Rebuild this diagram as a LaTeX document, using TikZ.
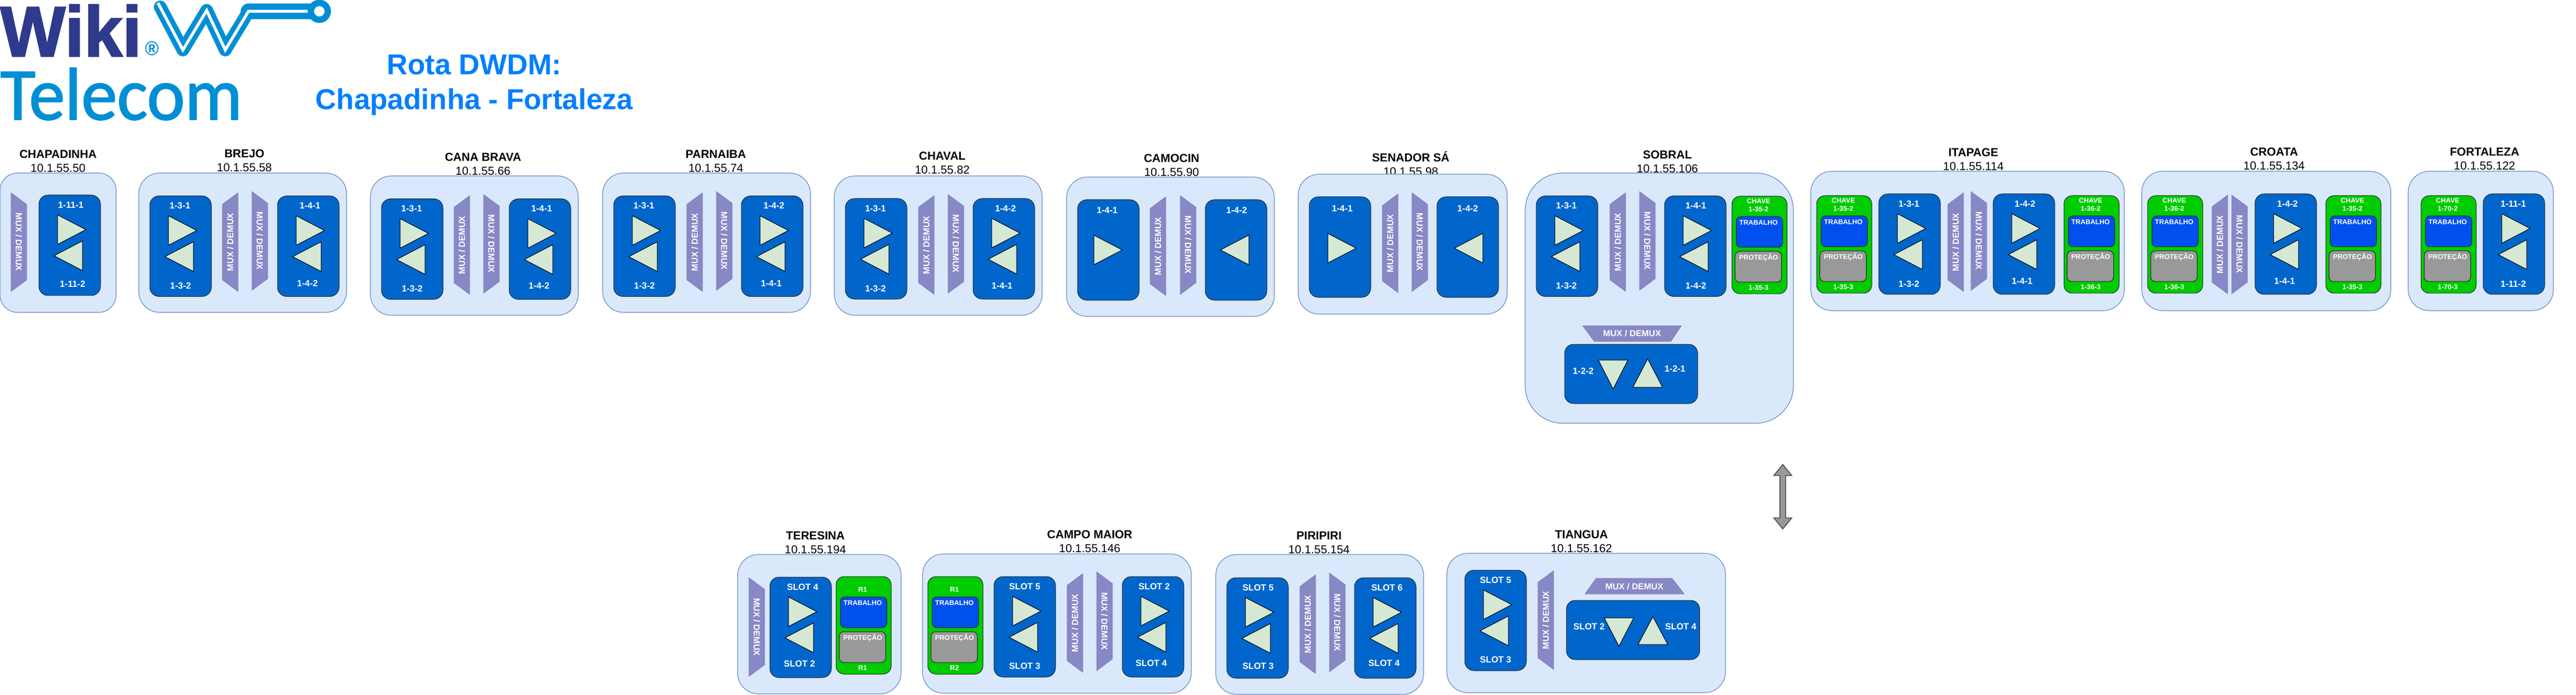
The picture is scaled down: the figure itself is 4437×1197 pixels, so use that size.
\documentclass[tikz,border=0pt]{standalone}
\usepackage{fontspec}
\setmainfont{Liberation Sans}
\newfontfamily\logofont[FakeBold=1.5]{Carlito}
\newfontfamily\logoforte[FakeBold=2]{Liberation Sans Bold}

\definecolor{painelfill}{HTML}{DAE8FC}
\definecolor{painelline}{HTML}{6C8EBF}
\definecolor{placafill}{HTML}{0066CC}
\definecolor{muxfill}{HTML}{8888C6}
\definecolor{setafill}{HTML}{D5E8D4}
\definecolor{chavefill}{HTML}{00CC00}
\definecolor{trabfill}{HTML}{0050EF}
\definecolor{protfill}{HTML}{999999}
\definecolor{titulocor}{HTML}{007FFF}
\definecolor{logoazul}{HTML}{008FD5}
\definecolor{logonavy}{HTML}{2E3A8C}

\tikzset{
	painel/.style={draw=painelline,fill=painelfill,line width=0.35pt},
	placa/.style={draw=black!85,fill=placafill,line width=0.3pt},
	modulo/.style={draw=black!85,fill=chavefill,line width=0.3pt},
	trabalho/.style={draw=black!85,fill=trabfill,line width=0.3pt},
	protecao/.style={draw=black!85,fill=protfill,line width=0.3pt},
	triang/.style={draw=black,fill=setafill,line width=0.3pt,line join=round},
	muxforma/.style={draw=muxfill!90!black,fill=muxfill,line width=0.2pt},
	estacaotxt/.style={inner sep=0,align=center,font=\fontsize{6}{7.2}\selectfont},
	rotulo/.style={inner sep=0,text=white,text height=3.3pt,text depth=0pt,font=\fontsize{4.62}{5}\selectfont\bfseries},
	rotmin/.style={inner sep=0,text=white,text height=2.54pt,text depth=0pt,font=\fontsize{3.54}{4}\selectfont\bfseries},
	muxtxt/.style={inner sep=0,text=white,text height=3.25pt,text depth=0pt,font=\fontsize{4.5}{5}\selectfont\bfseries},
}

% x1 y1 largura altura
\newcommand{\caixa}[6]{
	\pgfmathsetmacro{\raio}{0.045*min((#5),(#6))}
	\node[#1,rounded corners=\raio pt,inner sep=0,minimum width={(#5)*0.3pt},minimum height={(#6)*0.3pt}] (#2) at ({#3+(#5)/2},{#4+(#6)/2}) {};
}
\newcommand{\estacao}[9]{
	\node[estacaotxt] (#1txt) at (#6,#7) {\textbf{#8}\\#9};
	\caixa{painel}{#1}{#2}{#3}{#4-#2}{#5-#3}
}
\newcommand{\setaD}[2]{\draw[triang] ({#1},{#2}) -- ++(49,25.5) -- ++(-49,25.5) -- cycle;}
\newcommand{\setaE}[2]{\draw[triang] ({#1+49},{#2}) -- ++(-49,25.5) -- ++(49,25.5) -- cycle;}
% nome x y, rotulo de cima + dx, rotulo de baixo + dx dy
\newcommand{\placa}[8]{
	\caixa{placa}{#1}{#2}{#3}{106}{173}
	\node[rotulo] (#1a) at ({#2+#5},{#3+17}) {#4};
	\node[rotulo] (#1b) at ({#2+#7},{#3+#8}) {#6};
	\setaD{#2+32}{#3+34}
	\setaE{#2+26}{#3+79}
}
\newcommand{\muxA}[3]{
	\draw[muxforma] ({#2+27},{#3}) -- ++(-27,20) -- ++(0,130) -- ++(27,20) -- cycle;
	\node[muxtxt,rotate=90] (#1) at ({#2+13.5},{#3+85}) {MUX / DEMUX};
}
\newcommand{\muxB}[3]{
	\draw[muxforma] ({#2},{#3}) -- ++(27,20) -- ++(0,130) -- ++(-27,20) -- cycle;
	\node[muxtxt,rotate=-90] (#1) at ({#2+13.5},{#3+85}) {MUX / DEMUX};
}
\newcommand{\modulo}[5]{
	\caixa{modulo}{#1}{#2}{#3}{95}{168}
	\caixa{trabalho}{#1t}{#2+7.5}{#3+35}{80}{53}
	\caixa{protecao}{#1p}{#2+5.5}{#3+95}{80}{53}
	\node[rotmin] (#1a) at ({#2+46},{#3+22}) {#4};
	\node[rotmin] (#1b) at ({#2+46},{#3+157}) {#5};
	\node[rotmin] (#1c) at ({#2+46},{#3+45}) {TRABALHO};
	\node[rotmin] (#1d) at ({#2+46},{#3+105}) {PROTEÇÃO};
}
\newcommand{\chave}[5]{
	\modulo{#1}{#2}{#3}{#4}{#5}
	\node[rotmin] (#1h) at ({#2+46},{#3+8}) {CHAVE};
}

\begin{document}
\begin{tikzpicture}[x=0.3pt,y=-0.3pt]
	\useasboundingbox (0,0) rectangle (4437,1197);

	% logo
	\node[inner sep=0,anchor=base west,text=logonavy] (logowiki) at (0,97) {\resizebox{72.9pt}{26.7pt}{\logoforte Wiki}};
	\node[inner sep=0,anchor=base west,text=logoazul] (logoreg) at (249,96) {\resizebox{7.2pt}{7.2pt}{\bfseries ®}};
	\node[inner sep=0,anchor=base west,text=logoazul] (logotelecom) at (0,206) {\resizebox{125pt}{26.7pt}{\logofont Telecom}};
	\draw[logoazul,line width=6.6pt,line join=round,line cap=round] (276,12) -- (315,86) -- (356,18) -- (388,86) -- (428,20);
	\draw[logoazul,line width=8.1pt,line cap=round] (428,19.5) -- (540,19.5);
	\draw[white,line width=1.5pt,line join=miter] (272,5) -- (315,86) -- (356,18) -- (388,86) -- (428,19.5) -- (535,19.5);
	\draw[logoazul,fill=white,line width=3.3pt] (550,19.5) circle (14.5);

	\node[inner sep=0,align=center,text=titulocor,font=\fontsize{14.9}{18}\selectfont\bfseries] (titulo) at (817,147) {Rota DWDM:\\Chapadinha - Fortaleza};

	% linha de cima
	\estacao{chapadinha}{0}{298}{200}{538}{100}{278}{CHAPADINHA}{10.1.55.50}
	\muxB{chapadinhamux}{19}{332}
	\placa{chapadinhap}{67}{336}{1-11-1}{55}{1-11-2}{58}{153}

	\estacao{brejo}{239}{298}{597}{538}{421}{277}{BREJO}{10.1.55.58}
	\placa{brejoa}{258}{337.5}{1-3-1}{52}{1-3-2}{53}{154.5}
	\muxA{brejomuxa}{383}{332}
	\muxB{brejomuxb}{434}{330}
	\placa{brejob}{478}{337.5}{1-4-1}{56}{1-4-2}{51.5}{150}

	\estacao{cana}{638}{303}{996}{543}{832}{283}{CANA BRAVA}{10.1.55.66}
	\placa{canaa}{657}{342.5}{1-3-1}{52}{1-3-2}{53}{154.5}
	\muxA{canamuxa}{782}{337}
	\muxB{canamuxb}{833}{335}
	\placa{canab}{877}{342.5}{1-4-1}{56}{1-4-2}{51.5}{150}

	\estacao{parnaiba}{1038}{298}{1396}{538}{1233}{278}{PARNAIBA}{10.1.55.74}
	\placa{parnaibaa}{1057}{337.5}{1-3-1}{52}{1-3-2}{53}{154.5}
	\muxA{parnaibamuxa}{1183}{332}
	\muxB{parnaibamuxb}{1234}{330}
	\placa{parnaibab}{1277}{337.5}{1-4-2}{56}{1-4-1}{51.5}{150}

	\estacao{chaval}{1437}{303}{1795}{543}{1623}{281}{CHAVAL}{10.1.55.82}
	\placa{chavala}{1456}{342}{1-3-1}{52}{1-3-2}{52}{154.5}
	\muxA{chavalmuxa}{1582}{337}
	\muxB{chavalmuxb}{1633}{335}
	\placa{chavalb}{1676}{342}{1-4-2}{56}{1-4-1}{50}{150}

	\estacao{camocin}{1837}{305}{2195}{545}{2018}{285}{CAMOCIN}{10.1.55.90}
	\caixa{placa}{camocina}{1856}{344}{106}{173}
	\node[rotulo] (camocinat) at (1907,362) {1-4-1};
	\setaD{1884}{405}
	\muxA{camocinmuxa}{1981}{339}
	\muxB{camocinmuxb}{2033}{337}
	\caixa{placa}{camocinb}{2076}{344}{106}{173}
	\node[rotulo] (camocinbt) at (2130,362) {1-4-2};
	\setaE{2102}{405}

	\estacao{senador}{2236}{300}{2596}{541}{2430}{281.5}{SENADOR SÁ}{10.1.55.98}
	\caixa{placa}{senadora}{2255}{339}{106}{173}
	\node[rotulo] (senadorat) at (2312,359) {1-4-1};
	\setaD{2287}{402}
	\muxA{senadormuxa}{2381}{334}
	\muxB{senadormuxb}{2432}{332}
	\caixa{placa}{senadorb}{2475}{339}{106}{173}
	\node[rotulo] (senadorbt) at (2528,359) {1-4-2};
	\setaE{2505}{402}

	\estacao{sobral}{2627}{298}{3089}{729}{2872}{279}{SOBRAL}{10.1.55.106}
	\placa{sobrala}{2646}{337.5}{1-3-1}{52}{1-3-2}{52}{154.5}
	\muxA{sobralmuxa}{2773}{332}
	\muxB{sobralmuxb}{2824}{330}
	\placa{sobralb}{2867}{337.5}{1-4-1}{54}{1-4-2}{54}{154.5}
	\chave{sobralc}{2983}{338}{1-35-2}{1-35-3}
	\draw[muxforma] (2726,561) -- (2896,561) -- (2878,588) -- (2746,588) -- cycle;
	\node[muxtxt] (sobralmuxc) at (2811,574) {MUX / DEMUX};
	\caixa{placa}{sobrald}{2695}{593}{229}{102}
	\node[rotulo] (sobraldl) at (2727,639) {1-2-2};
	\node[rotulo] (sobraldr) at (2885,635) {1-2-1};
	\draw[triang] (2753,620) -- ++(51,0) -- ++(-25.5,50) -- cycle;
	\draw[triang] (2838,618) -- ++(25.5,49) -- ++(-51,0) -- cycle;

	\estacao{itapage}{3119}{295}{3659}{535}{3399}{275}{ITAPAGE}{10.1.55.114}
	\chave{itapagea}{3129}{337}{1-35-2}{1-35-3}
	\placa{itapageb}{3236}{334}{1-3-1}{52}{1-3-2}{52}{155}
	\muxA{itapagemuxa}{3355}{332}
	\muxB{itapagemuxb}{3395}{330}
	\placa{itapagec}{3433}{334}{1-4-2}{55}{1-4-1}{50}{150}
	\chave{itapaged}{3555}{337}{1-36-2}{1-36-3}

	\estacao{croata}{3689}{295}{4118}{535}{3917}{274}{CROATA}{10.1.55.134}
	\chave{croataa}{3699}{337}{1-36-2}{1-36-3}
	\muxA{croatamuxa}{3810}{336}
	\muxB{croatamuxb}{3844}{336}
	\placa{croatab}{3884}{334}{1-4-2}{56}{1-4-1}{51}{150}
	\chave{croatac}{4006}{337}{1-35-2}{1-35-3}

	\estacao{fortaleza}{4148}{295}{4398}{535}{4279.5}{274}{FORTALEZA}{10.1.55.122}
	\chave{fortalezaa}{4170}{337}{1-70-2}{1-70-3}
	\placa{fortalezab}{4277}{334}{1-11-1}{52}{1-11-2}{52}{155}

	% seta entre as linhas
	\draw[draw=black!75,fill=protfill,line width=0.4pt] (3070.7,800) -- ++(15.5,19) -- ++(-10.5,0) -- ++(0,73) -- ++(10.5,0) -- ++(-15.5,19) -- ++(-15.5,-19) -- ++(10.5,0) -- ++(0,-73) -- ++(-10.5,0) -- cycle;

	% linha de baixo
	\estacao{teresina}{1270.5}{955}{1552}{1195}{1404.5}{935}{TERESINA}{10.1.55.194}
	\muxB{teresinamux}{1290}{995}
	\placa{teresinaa}{1326}{994}{SLOT 4}{56.5}{SLOT 2}{51}{149}
	\modulo{teresinab}{1440}{993}{R1}{R1}

	\estacao{campo}{1589}{954}{2052}{1194}{1877}{933}{CAMPO MAIOR}{10.1.55.146}
	\modulo{campoa}{1598}{993}{R1}{R2}
	\placa{campob}{1712}{993}{SLOT 5}{53}{SLOT 3}{53}{154}
	\muxA{campomuxa}{1838}{988}
	\muxB{campomuxb}{1889}{985}
	\placa{campoc}{1933}{993}{SLOT 2}{55}{SLOT 4}{50}{149}

	\estacao{piripiri}{2094}{955}{2452}{1196}{2272}{935}{PIRIPIRI}{10.1.55.154}
	\placa{piripiria}{2113}{995}{SLOT 5}{54}{SLOT 3}{54}{152}
	\muxA{piripirimuxa}{2239}{990}
	\muxB{piripirimuxb}{2290}{987}
	\placa{piripirib}{2333}{995}{SLOT 6}{56}{SLOT 4}{51}{147}

	\estacao{tiangua}{2492}{953}{2972}{1193}{2724}{932.5}{TIANGUA}{10.1.55.162}
	\placa{tianguaa}{2523}{982}{SLOT 5}{53}{SLOT 3}{53}{154}
	\muxA{tianguamux}{2649}{983}
	\draw[muxforma] (2749,996) -- (2880,996) -- (2901,1023) -- (2730,1023) -- cycle;
	\node[muxtxt] (tianguamuxb) at (2815,1010) {MUX / DEMUX};
	\caixa{placa}{tianguab}{2698}{1034}{229.5}{102}
	\node[rotulo] (tianguabl) at (2737,1079) {SLOT 2};
	\node[rotulo] (tianguabr) at (2895,1079) {SLOT 4};
	\draw[triang] (2763,1064) -- ++(51,0) -- ++(-25.5,49) -- cycle;
	\draw[triang] (2847,1062) -- ++(25.5,48) -- ++(-51,0) -- cycle;
\end{tikzpicture}
\end{document}
